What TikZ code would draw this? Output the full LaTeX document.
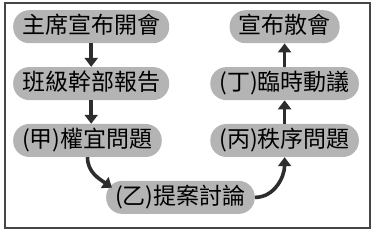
\documentclass[tikz,border=0pt]{standalone}
\usepackage{fontspec}
\usetikzlibrary{arrows.meta, positioning}
\newfontfamily\cjk{Noto Sans CJK TC}
\definecolor{cPill}{RGB}{180,180,180}
\definecolor{cLine}{RGB}{45,45,45}
\definecolor{cFrame}{RGB}{70,70,70}
\begin{document}
\begin{tikzpicture}[x=1pt, y=1pt,
          p/.style={fill=cPill, rounded corners=16pt, minimum height=33pt,
                    inner xsep=9pt, inner ysep=0pt, text height=17pt, text depth=3.5pt,
                    font=\cjk\fontsize{23pt}{27pt}\selectfont},
          a/.style={->, draw=cLine, line width=3.6pt},
          >={Triangle[length=9pt, width=13pt]}]
        \useasboundingbox (0,0) rectangle (374,232);
        \draw[cFrame, line width=1.4pt] (5,4) rectangle (370,229);
        \node[p, anchor=north west] (open) at (13,222) {主席宣布開會};
        \node[p, below right=23.5pt and 0pt of open.south west] (report) {班級幹部報告};
        \node[p, below right=23.5pt and 0pt of report.south west] (qa) {(甲)權宜問題};
        \node[p, below right=23.5pt and 93pt of qa.south west] (disc) {(乙)提案討論};
        \node[p, right=60pt of open] (close) {宣布散會};
        \node[p, below=23.5pt of close] (temp) {(丁)臨時動議};
        \node[p, below=23.5pt of temp] (order) {(丙)秩序問題};
        \draw[a] (open.south) -- (open.south |- report.north);
        \draw[a] (report.south -| open.south) -- (open.south |- qa.north);
        \draw[a] (qa.south) to[out=-90, in=145] ([shift={(6pt,-7pt)}]disc.north west);
        \draw[a] (disc.east) to[out=0, in=-90] (order.south);
        \draw[a] (order.north) -- (temp.south);
        \draw[a] (temp.north) -- (close.south);
      \end{tikzpicture}
\end{document}
